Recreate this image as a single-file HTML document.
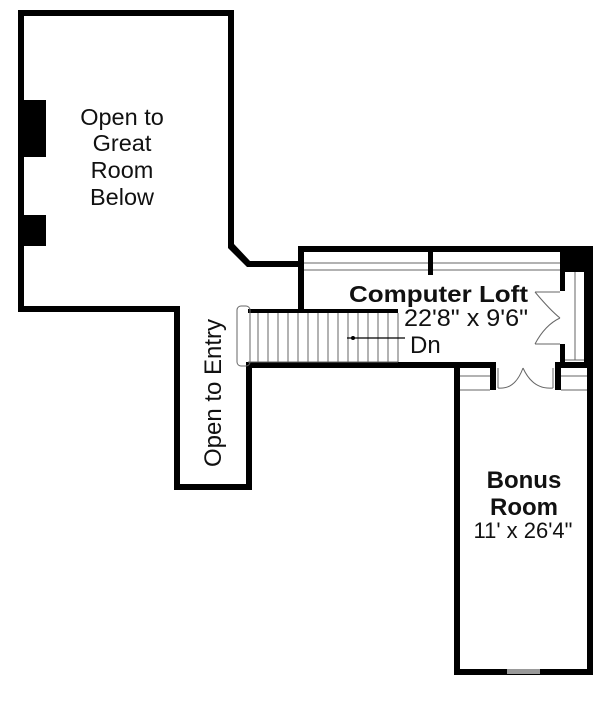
<!DOCTYPE html>
<html><head><style>
html,body{margin:0;padding:0;background:#fff;}
svg{display:block;}
text{font-family:"Liberation Sans",Arial,sans-serif;fill:#111;}
</style></head><body>
<svg width="600" height="707" viewBox="0 0 600 707">
<g fill="#000">
<rect x="18" y="10" width="216" height="6"/>
<rect x="18" y="10" width="6" height="302"/>
<rect x="228" y="10" width="6" height="236"/>
<polygon points="228,244 234,244 250,261 300,261 300,267 247,267 228,248"/>
<rect x="18" y="306" width="162" height="6"/>
<rect x="18" y="100" width="28" height="57"/>
<rect x="18" y="215" width="28" height="31"/>
<rect x="174" y="306" width="6" height="184"/>
<rect x="174" y="484" width="78" height="6"/>
<rect x="246" y="362" width="6" height="128"/>
<rect x="298" y="246" width="290" height="6"/>
<rect x="298" y="246" width="6" height="66"/>
<rect x="560" y="246" width="28" height="26"/>
<rect x="428" y="252" width="5" height="23"/>
<rect x="560" y="272" width="5" height="19"/>
<rect x="560" y="344" width="5" height="24"/>
<rect x="584" y="246" width="9" height="122"/>
<rect x="246" y="362" width="250" height="6"/>
<rect x="248" y="309" width="150" height="4"/>
<rect x="454" y="362" width="42" height="6"/>
<rect x="490" y="362" width="6" height="28"/>
<rect x="555" y="362" width="38" height="6"/>
<rect x="555" y="362" width="6" height="28"/>
<rect x="454" y="362" width="6" height="313"/>
<rect x="587" y="362" width="6" height="313"/>
<rect x="454" y="669" width="139" height="6"/>
</g>
<g stroke="#666" fill="none" stroke-width="1">
<line x1="304" y1="263" x2="428" y2="263"/><line x1="304" y1="270" x2="428" y2="270"/>
<line x1="433" y1="263" x2="560" y2="263"/><line x1="433" y1="270" x2="560" y2="270"/>
<line x1="575" y1="272" x2="575" y2="360"/>
<line x1="565" y1="360" x2="584" y2="360"/>
<line x1="460" y1="376" x2="490" y2="376"/><line x1="561" y1="376" x2="587" y2="376"/>
<line x1="460" y1="390" x2="490" y2="390"/><line x1="561" y1="390" x2="587" y2="390"/>
<rect x="237" y="306" width="13" height="60" rx="4"/>
<line x1="248" y1="362" x2="398" y2="362"/>
<path d="M258 313V362M268 313V362M278 313V362M288 313V362M298 313V362M308 313V362M318 313V362M328 313V362M338 313V362M348 313V362M358 313V362M368 313V362M378 313V362M388 313V362M398 313V362"/>
<path d="M535 292 H560 M535 292 Q550 310 560 318 M535 344 H560 M535 344 Q545 325 560 318"/>
<path d="M498 388 V368 M498 388 Q515 390 523 368 M553 388 V368 M553 388 Q533 390 523 368"/>
<rect x="507" y="669" width="33" height="5" fill="#999" stroke="none"/>
</g>
<line x1="347" y1="338" x2="405" y2="338" stroke="#000" stroke-width="1.2"/>
<circle cx="353" cy="338" r="2" fill="#000"/>
<g font-size="23.5" text-anchor="middle">
<text x="122" y="125">Open to</text>
<text x="122" y="151">Great</text>
<text x="122" y="178">Room</text>
<text x="122" y="205">Below</text>
</g>
<text x="349" y="302" font-size="23" font-weight="bold" textLength="179" lengthAdjust="spacingAndGlyphs">Computer Loft</text>
<text x="404" y="326" font-size="24" textLength="124" lengthAdjust="spacingAndGlyphs">22'8" x 9'6"</text>
<text x="410" y="353" font-size="24">Dn</text>
<text transform="translate(221,393) rotate(-90)" font-size="24" text-anchor="middle">Open to Entry</text>
<g text-anchor="middle">
<text x="524" y="488" font-size="24" font-weight="bold">Bonus</text>
<text x="524" y="515" font-size="24" font-weight="bold">Room</text>
<text x="523" y="538" font-size="22">11' x 26'4"</text>
</g>
</svg>
</body></html>
